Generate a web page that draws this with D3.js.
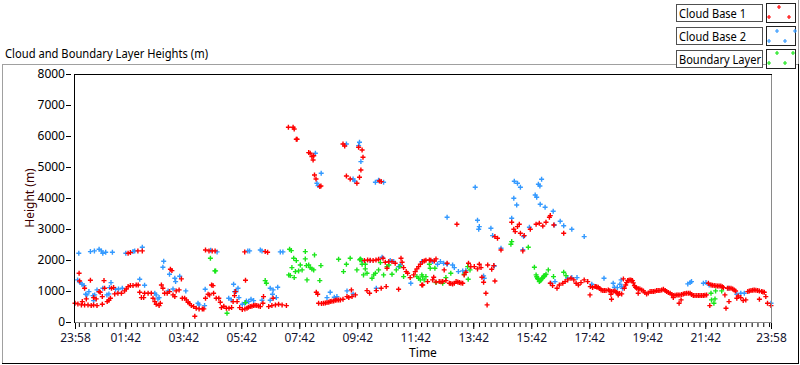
<!DOCTYPE html>
<html>
<head>
<meta charset="utf-8">
<style>
  body { margin: 0; background: #fff; }
  svg text { font-family: "Segoe UI", "Noto Sans", "Open Sans", sans-serif; font-size: 12px; fill: #000; }
</style>
</head>
<body>
<div id="chart"></div>
<script src="https://d3js.org/d3.v7.min.js"></script>
<script>
'use strict';

// time axis: hours after 23:58
var xTickHours = [0, 1.733, 3.733, 5.733, 7.733, 9.733, 11.733, 13.733, 15.733, 17.733, 19.733, 21.733, 24];
var xTickLabels = ['23:58', '01:42', '03:42', '05:42', '07:42', '09:42', '11:42', '13:42', '15:42', '17:42', '19:42', '21:42', '23:58'];
var yTicks = [0, 1000, 2000, 3000, 4000, 5000, 6000, 7000, 8000];

var seriesNames = ['Cloud Base 1', 'Cloud Base 2', 'Boundary Layer'];

// [hours after 23:58, height m]
var cloudBase1 = [
  [0.00,604],[0.10,583],[0.22,551],[0.33,551],[0.45,551],[0.56,529],[0.64,551],[0.76,529],[0.94,572],
  [0.14,1572],[0.16,1324],[0.33,1088],[0.53,1346],[0.39,744],[0.25,658],[0.64,787],[0.73,744],[0.83,981],[0.87,959],
  [0.94,819],[1.02,1088],[1.00,1335],[1.11,658],[1.17,701],[1.22,766],[1.26,1088],[1.33,1110],
  [1.37,905],[1.48,927],[1.60,927],[1.71,1002],[1.77,1066],[1.83,1142],[1.91,1174],[2.00,1174],[2.11,1195],[2.18,1195],
  [2.23,959],[2.29,787],[2.37,787],[2.40,927],[2.52,927],[2.63,927],[2.69,766],[2.75,658],[2.80,572],[2.90,529],[2.94,604],
  [2.98,1195],[3.03,1088],[3.09,927],[3.18,927],[3.26,981],[3.29,1701],[3.34,1658],[3.38,873],[3.44,819],[3.49,1002],
  [3.59,1034],[3.67,1389],[3.70,766],[3.78,766],[3.84,712],[3.90,637],[3.95,594],[4.01,529],[4.09,497],[4.18,443],
  [4.28,422],[4.39,422],[4.44,422],[4.13,185],
  [4.50,766],[4.59,895],[4.64,873],[4.71,1195],[4.76,1174],[4.78,927],[4.87,766],[4.96,766],[5.01,637],[5.05,465],
  [5.13,508],[5.22,443],[5.31,443],[5.40,465],[5.45,658],[5.50,851],[5.53,981],[5.59,658],[5.68,465],[5.77,400],
  [5.86,422],[5.93,443],[5.88,1346],[5.85,2260],
  [1.83,2217],[1.91,2238],[2.17,2292],[2.32,2292],[4.50,2324],[4.62,2292],[4.73,2292],[4.83,2292],
  [5.98,475],[6.04,497],[6.10,508],[6.16,529],[6.21,540],[6.27,529],[6.33,518],[6.39,497],[6.48,604],[6.50,819],
  [6.68,497],[6.79,529],[6.91,551],[7.02,572],[7.14,551],[7.29,529],[6.56,2270],[6.64,2249],[6.83,766],
  [7.36,6280],[7.52,6280],[7.56,6226],[7.63,5893],[7.66,5893],[8.06,5463],[8.11,5441],[8.17,5334],[8.21,5227],
  [8.23,5366],[8.26,4743],[8.31,4614],[8.44,4367],[8.48,4388],[9.24,5743],[9.30,5678],[9.36,4711],[9.49,4614],
  [9.72,4474],[9.78,5635],[9.90,5549],[9.93,5312],[9.86,4904],[9.81,4668],[10.50,4549],[10.56,4528],
  [8.32,959],[8.37,894],[8.40,604],[8.50,594],[8.57,604],[8.63,615],[8.69,626],[8.75,640],[8.80,658],[8.86,670],
  [8.92,680],[8.98,700],[9.03,712],[9.09,712],[9.15,712],[9.24,733],[9.38,819],[9.44,787],[9.55,819],[9.67,873],
  [9.53,1034],[10.07,1012],[10.16,927],[10.39,1012],[10.56,1088],[10.73,1142],[11.16,1055],
  [9.98,1980],[10.09,2002],[10.18,1991],[10.28,1980],[10.38,2000],[10.47,2023],[10.62,2055],[10.70,1927],[10.76,1733],
  [10.82,1948],[10.93,1948],[11.04,1894],[11.24,2055],[11.28,1927],[11.33,1755],[11.42,1626],[11.47,1572],[11.56,1432],
  [11.68,1518],[11.73,1626],[11.79,1712],[11.85,1787],[11.91,1862],[11.96,1195],
  [13.17,3151],[15.06,3216],[15.13,2990],[15.18,2915],[15.26,3076],[15.32,3151],[15.36,2861],[15.49,2786],[15.44,2292],
  [14.48,2754],[14.57,2700],[14.69,2324],[15.70,2990],[15.90,3151],[16.01,3184],[16.13,3098],[16.24,3216],[16.36,3377],
  [16.39,3431],[16.51,3130],[16.85,2861],
  [11.99,1948],[12.05,1970],[12.10,1991],[12.22,2002],[12.27,1990],[12.39,1969],[12.45,2034],[11.99,1195],[12.16,1303],
  [12.33,1357],[12.37,1442],[12.45,1290],[12.56,1303],[12.62,1300],[12.68,1303],[12.79,1335],[12.73,1680],[12.83,1894],
  [12.91,1249],[12.96,1240],[13.02,1228],[13.08,1250],[13.14,1303],[13.20,1290],[13.25,1270],[13.31,1260],[13.37,1249],
  [13.42,1518],[13.48,1604],[13.57,1894],[13.65,1787],[13.77,1787],[13.88,1712],[13.94,1862],[14.00,1755],[14.03,1442],
  [14.09,1281],[14.23,1840],[14.37,1700],[14.44,1819],[14.48,1324],[14.17,927],[14.21,551],
  [16.39,1249],[16.47,1173],[16.62,1088],[16.70,1195],[16.82,1249],[16.90,1303],[16.99,1357],[17.10,1410],[17.20,1357],
  [17.28,1249],[17.36,1195],[17.45,1270],[17.56,1357],[17.68,1303],[17.77,1142],[17.85,1110],[17.96,1142],[17.76,873],
  [17.93,1142],[17.99,1130],[18.04,1120],[18.09,1080],[18.14,1034],[18.20,1020],[18.25,1012],[18.31,1020],[18.39,1034],
  [18.44,1010],[18.50,981],[18.56,990],[18.62,1002],[18.67,960],[18.71,927],[18.78,915],[18.85,905],[18.94,1088],
  [18.99,1195],[19.02,1270],[19.06,1335],[19.10,1350],[19.14,1357],[19.18,1350],[19.22,1335],[19.25,1260],[19.29,1174],
  [19.33,1120],[19.37,1088],[19.43,1075],[19.48,1066],[19.54,1035],[19.60,1002],[19.65,950],[19.71,905],[19.77,940],
  [19.83,981],[19.89,980],[19.94,981],[20.00,995],[20.06,1012],[20.11,1012],[20.17,1012],[20.23,1030],[20.29,1055],
  [20.35,1020],[20.40,981],[20.46,955],[20.52,927],[20.58,890],[20.63,851],[20.69,860],[20.75,873],[20.80,873],
  [20.86,873],[20.92,890],[20.98,905],[21.03,915],[21.09,927],[21.15,927],[21.21,927],[21.26,890],[21.32,851],
  [21.38,851],[21.44,851],[21.50,851],[21.55,851],[21.61,851],[21.67,851],[21.72,860],[21.78,873],[21.84,1249],
  [21.93,1195],[21.98,1185],[22.04,1174],[22.10,1170],[22.16,1163],[22.21,1163],[22.27,1163],[22.32,1140],[22.36,1110],
  [22.41,873],[22.50,1088],[22.56,1088],[22.62,1088],[22.68,1060],[22.73,1034],[22.78,1000],[22.82,766],[22.87,840],
  [22.96,787],[23.04,690],[23.13,712],[23.20,981],[23.25,1000],[23.31,1012],[23.37,1025],[23.42,1034],[23.48,1025],
  [23.54,1012],[23.60,1000],[23.68,981],[23.72,970],[23.77,959],[23.82,819],[23.88,604],[24.00,529],
  [18.50,733],[18.48,894],[18.73,873],[18.91,1389],[19.42,927],[20.63,787],[20.83,604],[20.90,712],[21.89,529],
  [22.45,443],[22.55,658],[23.60,733]
];

var cloudBase2 = [
  [0.13,2217],[0.53,2270],[0.67,2292],[0.83,2346],[0.91,2292],[0.96,2217],[1.06,2249],[1.29,2249],[1.75,2217],
  [2.00,2270],[2.06,2292],[2.32,2410],[4.68,2313],[4.90,2260],[5.96,2292],
  [0.09,1357],[0.18,1271],[0.24,1217],[0.31,1174],[0.37,894],[0.41,873],[0.48,981],[0.62,851],[0.64,690],[0.68,873],
  [0.76,1034],[0.96,1088],[1.10,873],[1.19,1110],[1.24,1271],[1.17,905],[1.40,1055],[1.50,1066],[1.63,1088],
  [2.23,1378],[2.40,1185],[2.75,927],[2.80,873],[2.86,744],[2.90,787],[3.06,1959],[3.03,1765],[3.21,1002],[3.26,1540],
  [3.38,1066],[3.44,1410],[3.47,1303],[3.61,1475],[3.82,1002],[4.24,604],[4.28,551],[4.47,529],[4.49,1055],
  [5.30,766],[5.39,712],[5.47,1217],[5.50,981],[5.56,981],[5.62,1088],[5.65,787],[5.77,572],[5.85,604],[5.91,680],
  [6.02,2292],[6.39,2324],[6.45,2292],[7.08,2260],[7.17,2260],[6.73,1088],[6.83,1034],[6.99,1120],[6.81,894],
  [6.94,787],[6.73,701],[6.45,701],[6.07,733],[6.16,690],[5.99,658],[8.69,787],[8.80,959],[8.94,797],[9.03,819],
  [9.38,1002],[9.59,905],[10.39,1088],[10.59,2087],[10.87,1980],[10.99,1948],[11.16,1787],[11.58,1249],[11.96,1948],
  [10.18,1980],[9.90,1980],[11.22,1840],
  [8.29,5441],[8.49,4797],[8.34,4474],[8.38,4399],[9.36,5743],[9.59,4614],[9.64,4549],[9.78,5689],[9.81,5796],
  [9.86,5173],[10.36,4506],[10.47,4571],[10.64,4506],
  [13.80,4345],[12.83,3377],[13.88,3280],[13.94,3076],[13.92,2990],[14.34,3022],[14.40,2786],[14.69,2378],[15.15,4539],
  [15.26,4474],[15.36,4345],[15.13,3990],[15.23,3775],[15.06,3345],[15.44,2335],[15.47,2754],[15.67,3055],[15.87,4098],
  [15.92,4022],[15.98,4442],[16.03,4388],[16.09,4603],[16.04,3797],[16.21,3700],[16.49,3571],[16.53,3130],[16.73,3248],
  [16.85,3108],[17.13,2990],[17.56,2754],
  [12.33,1948],[12.50,1862],[12.60,1948],[12.71,1894],[12.83,1862],[13.02,1840],[13.08,1755],[13.22,1626],[13.37,1647],
  [13.48,1658],[14.09,1486],[14.11,1410],[14.46,1808],[16.41,1249],[16.55,1303],[16.99,1410],[17.13,1432],[17.31,1432],
  [17.82,1217],
  [18.24,1410],[18.56,1249],[18.60,1120],[18.70,1110],[18.79,1217],[18.83,1357],[18.85,1142],[18.88,1088],[21.13,1228],
  [21.21,1270],[21.26,1303],[21.67,1249],[21.76,1270],[21.87,1195],[22.53,1088],[22.82,894],[22.96,927],[23.08,927],
  [24.00,604]
];

var boundaryLayer = [
  [4.67,2055],[4.82,1647],[4.85,1647],[5.24,282],[5.88,626],
  [6.56,1335],[6.60,1249],[7.40,2345],[7.46,2302],[7.54,2055],[7.63,1980],[7.77,1840],[7.83,1680],[7.94,2270],
  [7.94,2034],[7.98,1819],[8.06,1840],[8.11,1755],[8.17,1712],[8.23,1680],[8.26,2163],[8.48,1819],[8.44,1335],
  [8.00,1357],[7.60,1626],[7.48,1755],[7.42,1497],[7.56,1432],[7.37,1518],[7.71,1647],[9.09,2023],[9.36,1862],
  [9.26,1626],[9.49,2055],[9.72,1680],[9.82,2010],[9.84,2034],[9.87,2000],[9.90,1862],[10.01,1862],[10.01,1712],
  [9.95,1518],[10.07,1572],[10.24,1410],[10.30,1518],[10.36,1572],[10.47,1680],[10.53,1916],[10.64,1518],[10.76,1787],
  [10.82,1840],[10.93,1540],[11.08,1680],[11.20,1787],[11.33,1464],[11.79,1464],[11.85,1410],[11.91,1357],[11.96,1518],
  [15.03,2507],[15.06,2593],[15.63,2410],[15.84,1765],[15.90,1518],[15.92,1460],[15.95,1410],[15.97,1380],[16.01,1303],
  [16.04,1330],[16.07,1357],[16.10,1400],[16.13,1432],[16.16,1480],[16.18,1464],[16.20,1500],[16.24,1540],[16.32,1680],
  [16.50,1464],[16.85,1604],[16.93,1497],[13.56,1378],[13.62,1680],[13.54,1787],[12.96,1572],[12.79,1432],[12.68,1249],
  [12.45,1270],[12.41,1733],[12.22,1862],[12.25,1733],[12.04,1357],[11.99,1464],[12.10,1464],[13.42,1540],
  [21.93,927],[21.95,712],[22.07,744],[22.03,604],[22.09,1002],[22.30,1002]
];

var colors = ['#ff0000', '#3399ff', '#19e619'];

var svg = d3.select('#chart').append('svg').attr('width', 800).attr('height', 365);

var x = d3.scaleLinear().domain([0, 24]).range([75, 771]);
var y = d3.scaleLinear().domain([0, 8000]).range([322, 74]);

// outer frame
svg.append('line').attr('x1', 2).attr('y1', 64.5).attr('x2', 798).attr('y2', 64.5).attr('stroke', '#a0a0a0');
svg.append('line').attr('x1', 2.5).attr('y1', 64).attr('x2', 2.5).attr('y2', 363).attr('stroke', '#a0a0a0');
svg.append('line').attr('x1', 2).attr('y1', 363.5).attr('x2', 799).attr('y2', 363.5).attr('stroke', '#000');
svg.append('line').attr('x1', 798.5).attr('y1', 0).attr('x2', 798.5).attr('y2', 64).attr('stroke', '#a0a0a0');
svg.append('line').attr('x1', 798.5).attr('y1', 64).attr('x2', 798.5).attr('y2', 364).attr('stroke', '#000');

svg.append('text').attr('x', 5).attr('y', 58).attr('textLength', 203).attr('lengthAdjust', 'spacingAndGlyphs')
  .text('Cloud and Boundary Layer Heights (m)');

// plot area
svg.append('rect').attr('x', 75).attr('y', 74).attr('width', 696).attr('height', 248).attr('fill', '#fff');

var plot = svg.append('g');
var marker = 'M-2.5,0H2.5M0,-2.5V2.5';
[[cloudBase2, 1], [boundaryLayer, 2], [cloudBase1, 0]].forEach(function(s) {
  plot.append('g').selectAll('path').data(s[0]).join('path')
    .attr('d', marker)
    .attr('transform', function(d) { return 'translate(' + x(d[0]).toFixed(1) + ',' + y(d[1]).toFixed(1) + ')'; })
    .attr('stroke', colors[s[1]])
    .attr('stroke-width', 1.4)
    .attr('fill', 'none');
});

// plot border
svg.append('line').attr('x1', 75).attr('y1', 322.5).attr('x2', 772).attr('y2', 322.5).attr('stroke', '#8a8a8a');
svg.append('line').attr('x1', 771.5).attr('y1', 74).attr('x2', 771.5).attr('y2', 323).attr('stroke', '#8a8a8a');
svg.append('line').attr('x1', 74).attr('y1', 74.5).attr('x2', 772).attr('y2', 74.5).attr('stroke', '#000');
svg.append('line').attr('x1', 74.5).attr('y1', 74).attr('x2', 74.5).attr('y2', 323).attr('stroke', '#000');

// x axis
var minorTicks = d3.range(-8, 112).map(function(k) { return 1.733 + k * 0.2; })
  .filter(function(v) { return v > 0.05 && v < 23.95; });
var xMinor = svg.append('g').attr('transform', 'translate(0,323)')
  .call(d3.axisBottom(x).tickValues(minorTicks).tickSize(4).tickFormat(''));
var xAxis = svg.append('g').attr('transform', 'translate(0,323)')
  .call(d3.axisBottom(x).tickValues(xTickHours).tickSize(6).tickPadding(4)
    .tickFormat(function(d, i) { return xTickLabels[i]; }));
[xMinor, xAxis].forEach(function(g) {
  g.select('.domain').remove();
  g.selectAll('line').attr('stroke', '#000');
});
xAxis.selectAll('text').attr('font-size', null).attr('font-family', null).style('fill', '#141430');

svg.append('text').attr('x', 423).attr('y', 357).attr('text-anchor', 'middle').text('Time');

// y axis
var yAxis = svg.append('g').attr('transform', 'translate(71,0)')
  .call(d3.axisLeft(y).tickValues(yTicks).tickSize(5).tickPadding(1).tickFormat(d3.format('d')));
yAxis.select('.domain').remove();
yAxis.selectAll('line').attr('stroke', '#000');
yAxis.selectAll('text').attr('font-size', null).attr('font-family', null);

svg.append('text').attr('transform', 'translate(34,198) rotate(-90)').attr('text-anchor', 'middle')
  .style('fill', '#3a0000').text('Height (m)');

// legend
var legendSamples = [
  [[12, 4], [2, 14], [22, 14]],
  [[10, 5], [28, 5], [2, 15], [18, 15]],
  [[10, 4], [26, 4], [2, 14], [18, 14]]
];
var legendText = [67, 67, 82];
seriesNames.forEach(function(name, i) {
  var top = 3 + i * 23;
  var g = svg.append('g');
  g.append('rect').attr('x', 676.5).attr('y', top + 1.5).attr('width', 86).attr('height', 17)
    .attr('fill', '#fff').attr('stroke', '#505050');
  g.append('text').attr('x', 679).attr('y', top + 15).attr('textLength', legendText[i])
    .attr('lengthAdjust', 'spacingAndGlyphs').text(name);
  g.append('rect').attr('x', 766.5).attr('y', top + 0.5).attr('width', 29).attr('height', 19)
    .attr('fill', '#fff').attr('stroke', '#202020');
  g.selectAll('path').data(legendSamples[i]).join('path')
    .attr('d', 'M-2,0H2M0,-2V2')
    .attr('transform', function(d) { return 'translate(' + (767 + d[0]) + ',' + (top + d[1]) + ')'; })
    .attr('stroke', colors[i]).attr('stroke-width', 1.2).attr('fill', 'none');
});
</script>
</body>
</html>
